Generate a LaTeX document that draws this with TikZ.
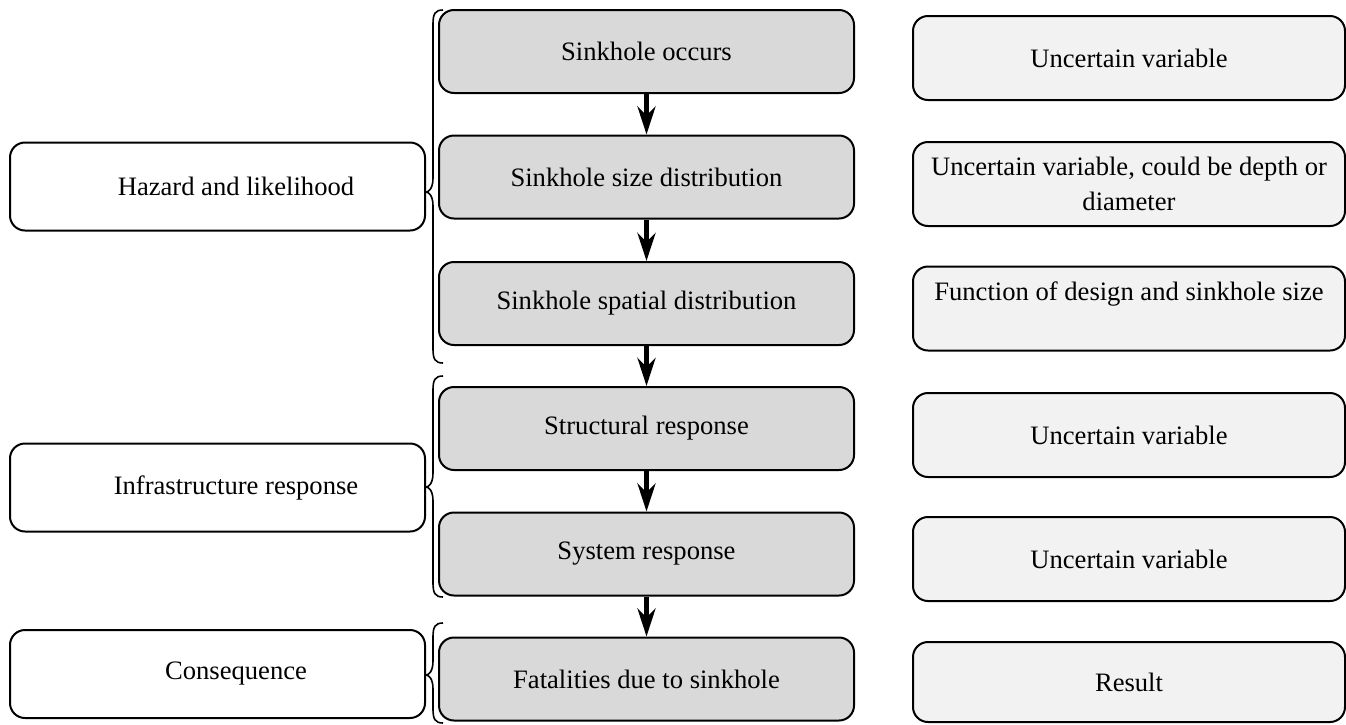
\documentclass[tikz,border=0pt]{standalone}
\usepackage{fontspec}
\setmainfont{LiberationSerif}[Extension=.ttf, UprightFont=*-Regular, BoldFont=*-Bold, ItalicFont=*-Italic]
\usetikzlibrary{arrows.meta}
\definecolor{midgray}{HTML}{D9D9D9}
\definecolor{lightgray}{HTML}{F2F2F2}
\begin{document}
\begin{tikzpicture}[x=1pt,y=-1pt,
  font=\fontsize{26.6pt}{35pt}\selectfont,
  basebox/.style={draw=black, line width=2pt, rounded corners=15pt, inner sep=0pt, align=center},
  centerbox/.style={basebox, fill=midgray, minimum width=415pt, minimum height=83pt},
  rightbox/.style={basebox, fill=lightgray, minimum width=432pt, minimum height=84pt},
  leftbox/.style={basebox, fill=white, minimum width=415pt, minimum height=88pt},
  flowarrow/.style={line width=5.5pt, -{Stealth[length=28pt,width=18pt,inset=9pt]}},
  bracepath/.style={line width=1.6pt, line join=round}
]
\useasboundingbox (0,0) rectangle (1346,724);

% centre column
\node[centerbox] (c1) at (646.5,51.5) {Sinkhole occurs};
\node[centerbox] (c2) at (646.5,177) {Sinkhole size distribution};
\node[centerbox] (c3) at (646.5,303.5) {Sinkhole spatial distribution};
\node[centerbox] (c4) at (646.5,428.5) {Structural response};
\node[centerbox] (c5) at (646.5,554) {System response};
\node[centerbox] (c6) at (646.5,679) {Fatalities due to sinkhole};

% right column
\node[rightbox] (r1) at (1129,58) {Uncertain variable};
\node[rightbox] (r2) at (1129,184) {Uncertain variable, could be depth or\\diameter};
\node[rightbox] (r3) at (1129,308.5) {Function of design and sinkhole size\\\phantom{x}};
\node[rightbox] (r4) at (1129,435) {Uncertain variable};
\node[rightbox] (r5) at (1129,559) {Uncertain variable};
\node[rightbox, minimum height=80pt] (r6) at (1129,682) {Result};

% left column
\node[leftbox] (l1) at (217.5,186.5) {\hspace*{37pt}Hazard and likelihood};
\node[leftbox] (l2) at (217.5,487.5) {\hspace*{37pt}Infrastructure response};
\node[leftbox] (l3) at (217.5,674) {\hspace*{37pt}Consequence};

% arrows
\draw[flowarrow] (c1.south) -- (c2.north);
\draw[flowarrow] (c2.south) -- (c3.north);
\draw[flowarrow] (c3.south) -- (c4.north);
\draw[flowarrow] (c4.south) -- (c5.north);
\draw[flowarrow] (c5.south) -- (c6.north);

% braces
\coordinate (b1tip) at (l1.east |- 0,192);
\coordinate (b2tip) at (l2.east |- 0,487);
\coordinate (b3tip) at (l3.east |- 0,675);
\draw[bracepath] (443,10) .. controls (435,10) and (433,14) .. (433,24)
  -- (433,178) .. controls (433,188) and (429,192) .. (b1tip)
  .. controls (429,192) and (433,196) .. (433,206)
  -- (433,349) .. controls (433,359) and (435,363) .. (443,363);
\draw[bracepath] (443,376) .. controls (435,376) and (433,380) .. (433,390)
  -- (433,473) .. controls (433,483) and (429,487) .. (b2tip)
  .. controls (429,487) and (433,491) .. (433,501)
  -- (433,583) .. controls (433,593) and (435,597) .. (443,597);
\draw[bracepath] (443,623) .. controls (435,623) and (433,627) .. (433,637)
  -- (433,661) .. controls (433,671) and (429,675) .. (b3tip)
  .. controls (429,675) and (433,679) .. (433,689)
  -- (433,709) .. controls (433,719) and (435,723) .. (443,723);
\end{tikzpicture}
\end{document}
